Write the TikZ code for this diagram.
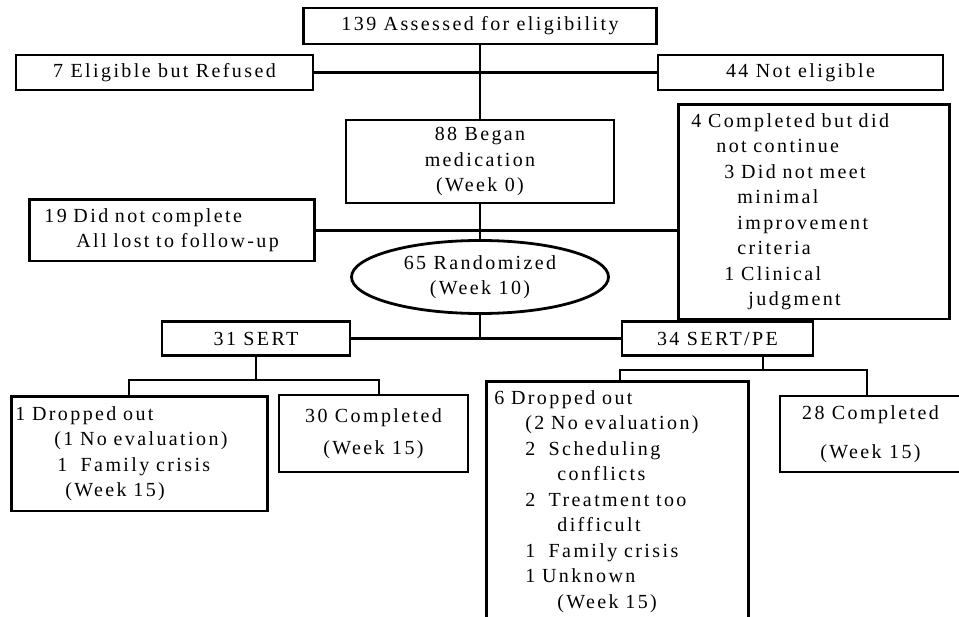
\documentclass[tikz,border=0pt]{standalone}
\usepackage{fontspec}
\setmainfont{Liberation Serif}[LetterSpace=12]
\usetikzlibrary{shapes.geometric}

\begin{document}
\begin{tikzpicture}[x=1pt,y=-1pt,
  box/.style={draw,line width=2.8pt,inner sep=0pt,align=center,
    font=\fontsize{20}{25.5}\selectfont},
  listbox/.style={box,anchor=north west,align=left,inner ysep=9pt},
  oval/.style={box,ellipse},
  link/.style={line width=2.8pt}]
\useasboundingbox (0,0) rectangle (959,617);
% screening
\node[box,minimum width=353pt,minimum height=36pt] (assess) at (480,26) {139 Assessed for eligibility};
\node[box,minimum width=297pt,minimum height=35pt] (refused) at (164.5,72.5) {7 Eligible but Refused};
\node[box,minimum width=285pt,minimum height=35pt] (noteligible) at (800.5,72.5) {44 Not eligible};
\node[box,minimum width=268pt,minimum height=83pt] (began) at (480,161.5) {88 Began\\medication\\(Week 0)};
\node[listbox,inner xsep=13pt,text width=245pt,minimum height=214pt] (notcont) at (677,103)
  {4 Completed but did\\
   \hspace*{25pt}not continue\\
   \hspace*{33pt}3 Did not meet\\
   \hspace*{46pt}minimal\\
   \hspace*{46pt}improvement\\
   \hspace*{46pt}criteria\\
   \hspace*{33pt}1 Clinical\\
   \hspace*{57pt}judgment};
\node[listbox,inner xsep=15pt,text width=255pt,minimum height=59pt] (lost) at (28,198)
  {19 Did not complete\\ \hspace*{32pt}All lost to follow-up};
\node[oval,minimum width=257pt,minimum height=73pt] (random) at (480,277) {65 Randomized\\(Week 10)};
% arms
\node[box,minimum width=188pt,minimum height=34pt] (sert) at (256,338.5) {31 SERT};
\node[box,minimum width=191pt,minimum height=34pt] (sertpe) at (717.5,338.5) {34 SERT/PE};
\node[listbox,inner xsep=4pt,text width=248pt,inner ysep=10pt] (drop1) at (10,395)
  {1 Dropped out\\
   \hspace*{39pt}(1 No evaluation)\\
   \hspace*{42pt}1\ \ Family crisis\\
   \hspace*{50pt}(Week 15)};
\node[box,minimum width=189pt,minimum height=77pt] (comp1) at (373.5,433.5) {30 Completed\\[6pt](Week 15)};
\node[listbox,inner xsep=8pt,text width=246pt] (drop2) at (485,380)
  {6 Dropped out\\
   \hspace*{31pt}(2 No evaluation)\\
   \hspace*{31pt}2\ \ Scheduling\\
   \hspace*{63pt}conflicts\\
   \hspace*{31pt}2\ \ Treatment too\\
   \hspace*{63pt}difficult\\
   \hspace*{31pt}1\ \ Family crisis\\
   \hspace*{31pt}1 Unknown\\
   \hspace*{63pt}(Week 15)};
\node[box,minimum width=181pt,minimum height=76pt] (comp2) at (870.5,434) {28 Completed\\[13pt](Week 15)};
% connectors
\coordinate (barl) at (129,380);
\coordinate (barr) at (379,380);
\coordinate (fork) at (763,370);
\coordinate (barpl) at (620,370);
\coordinate (barpr) at (867,370);
\draw[link] (assess) -- (began);
\draw[link] (refused) -- (noteligible);
\draw[link] (lost.east) -- (lost.east -| notcont.west);
\draw[link] (began) -- (random);
\draw[link] (sert) -- (sertpe);
\draw[link] (random) -- (random |- sert);
\draw[link] (sert) -- (sert |- barl);
\draw[link] (drop1.north -| barl) -- (barl) -- (barr) -- (comp1.north -| barr);
\draw[link] (sertpe.south -| fork) -- (fork);
\draw[link] (drop2.north -| barpl) -- (barpl) -- (barpr) -- (comp2.north -| barpr);
\end{tikzpicture}
\end{document}
